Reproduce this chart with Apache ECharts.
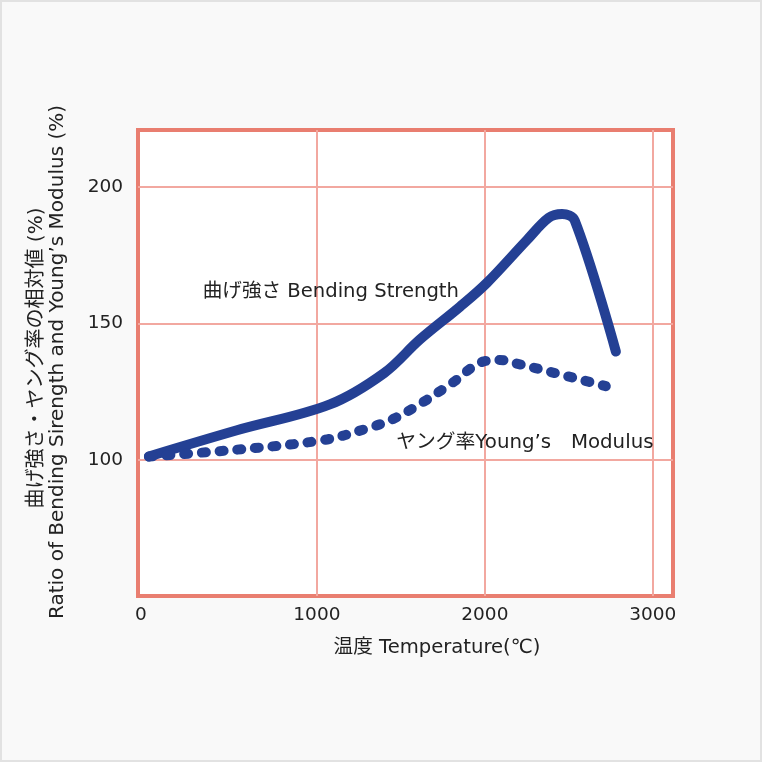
<!DOCTYPE html>
<html>
<head>
<meta charset="utf-8">
<script src="https://cdn.jsdelivr.net/npm/echarts@6/dist/echarts.min.js"></script>
<style>
html,body{margin:0;padding:0;background:#f9f9f9;}
#wrap{position:relative;width:762px;height:762px;}
#chart{position:absolute;left:0;top:0;width:762px;height:762px;}
#frame{position:absolute;left:0;top:0;width:762px;height:762px;box-sizing:border-box;border:2px solid #e2e2e2;pointer-events:none;}
</style>
</head>
<body>
<div id="wrap"><div id="chart"></div><div id="frame"></div></div>
<script>
// ---- data ----
const xLabelValues = [0, 1000, 2000, 3000];
const xTickLabels = ['0', '1000', '2000', '3000'];
const xGridValues = [1000, 2000, 3000];
const yTickValues = [100, 150, 200];
const yTickLabels = ['100', '150', '200'];

const bendingTemp = [0, 524, 1077, 1400, 1613, 1851, 2012, 2250, 2380, 2460, 2535, 2780];
const bendingRatio = [101.2, 110.8, 120.3, 131.8, 144.1, 156.1, 164.9, 180.6, 188.8, 190.2, 187.8, 139.7];

const youngTemp = [0, 506, 1036, 1300, 1452, 1631, 1810, 1988, 2089, 2196, 2405, 2720];
const youngRatio = [101.2, 103.6, 107.2, 111.5, 114.9, 121.1, 128.4, 136.0, 136.6, 135.2, 132.0, 127.0];

const bendingLabel = '曲げ強さ Bending Strength';
const youngLabel = 'ヤング率Young’s　Modulus';
const bendingLabelAt = [1083, 161.6];
const youngLabelAt = [2238, 106.3];

const xName = '温度 Temperature(℃)';
const yName1 = '曲げ強さ・ヤング率の相対値 (%)';
const yName2 = 'Ratio of Bending Sirength and Young’s Modulus (%)';

// ---- chart ----
const FONT = '"DejaVu Sans", "Noto Sans CJK JP", sans-serif';
const BLUE = '#244094';
const TXT = '#222';
const chart = echarts.init(document.getElementById('chart'), null, {renderer: 'canvas'});

function pairs(xs, ys) { return xs.map((x, i) => [x, ys[i]]); }

const option = {
  animation: false,
  backgroundColor: '#f9f9f9',
  textStyle: {fontFamily: FONT},
  grid: {
    left: 138, right: 89, top: 130, bottom: 166,
    show: true, backgroundColor: '#ffffff', borderColor: '#e97e70', borderWidth: 4,
    containLabel: false
  },
  xAxis: {
    type: 'value', min: -65, max: 3120,
    axisLine: {show: false},
    axisTick: {show: false, customValues: xGridValues},
    splitLine: {show: true, lineStyle: {color: '#f2a8a0', width: 2}},
    axisLabel: {
      customValues: xLabelValues,
      fontFamily: FONT, fontSize: 18.5, color: TXT, margin: 10,
      formatter: function (v) {
        const i = xLabelValues.indexOf(v);
        const t = i >= 0 ? xTickLabels[i] : '';
        return v === 0 ? '{z|' + t + '}' : t;
      },
      rich: {z: {fontFamily: FONT, fontSize: 18.5, color: TXT, padding: [0, 16, 0, 0]}}
    }
  },
  yAxis: {
    type: 'value', min: 50, max: 221,
    axisLine: {show: false},
    axisTick: {show: false, customValues: yTickValues},
    splitLine: {show: true, lineStyle: {color: '#f2a8a0', width: 2}},
    axisLabel: {
      customValues: yTickValues,
      fontFamily: FONT, fontSize: 18.5, color: TXT, margin: 15,
      formatter: function (v) { const i = yTickValues.indexOf(v); return i >= 0 ? yTickLabels[i] : ''; }
    }
  },
  series: [
    {
      name: 'bending', type: 'line', data: pairs(bendingTemp, bendingRatio),
      smooth: 0.35, showSymbol: false, symbol: 'none',
      lineStyle: {color: BLUE, width: 10, cap: 'round', join: 'round'},
      markPoint: {
        symbol: 'circle', symbolSize: 0, animation: false,
        label: {show: true, position: 'inside', fontFamily: FONT, fontSize: 19.6, color: TXT, formatter: bendingLabel},
        data: [{coord: bendingLabelAt}]
      },
      z: 3
    },
    {
      name: 'young', type: 'line', data: pairs(youngTemp, youngRatio),
      smooth: 0.35, showSymbol: false, symbol: 'none',
      lineStyle: {color: BLUE, width: 10, cap: 'round', join: 'round', type: [4, 13.7]},
      markPoint: {
        symbol: 'circle', symbolSize: 0, animation: false,
        label: {show: true, position: 'inside', fontFamily: FONT, fontSize: 19.8, color: TXT, formatter: youngLabel},
        data: [{coord: youngLabelAt}]
      },
      z: 3
    }
  ],
  graphic: [
    {type: 'text', x: 437, y: 648, style: {text: xName, fontFamily: FONT, fontSize: 19.6, fill: TXT, textAlign: 'center', textVerticalAlign: 'middle'}},
    {type: 'text', x: 37, y: 358, rotation: Math.PI / 2, style: {text: yName1, fontFamily: FONT, fontSize: 20, fill: TXT, textAlign: 'center', textVerticalAlign: 'middle'}},
    {type: 'text', x: 58, y: 362, rotation: Math.PI / 2, style: {text: yName2, fontFamily: FONT, fontSize: 20, fill: TXT, textAlign: 'center', textVerticalAlign: 'middle'}}
  ]
};
chart.setOption(option);
</script>
</body>
</html>
